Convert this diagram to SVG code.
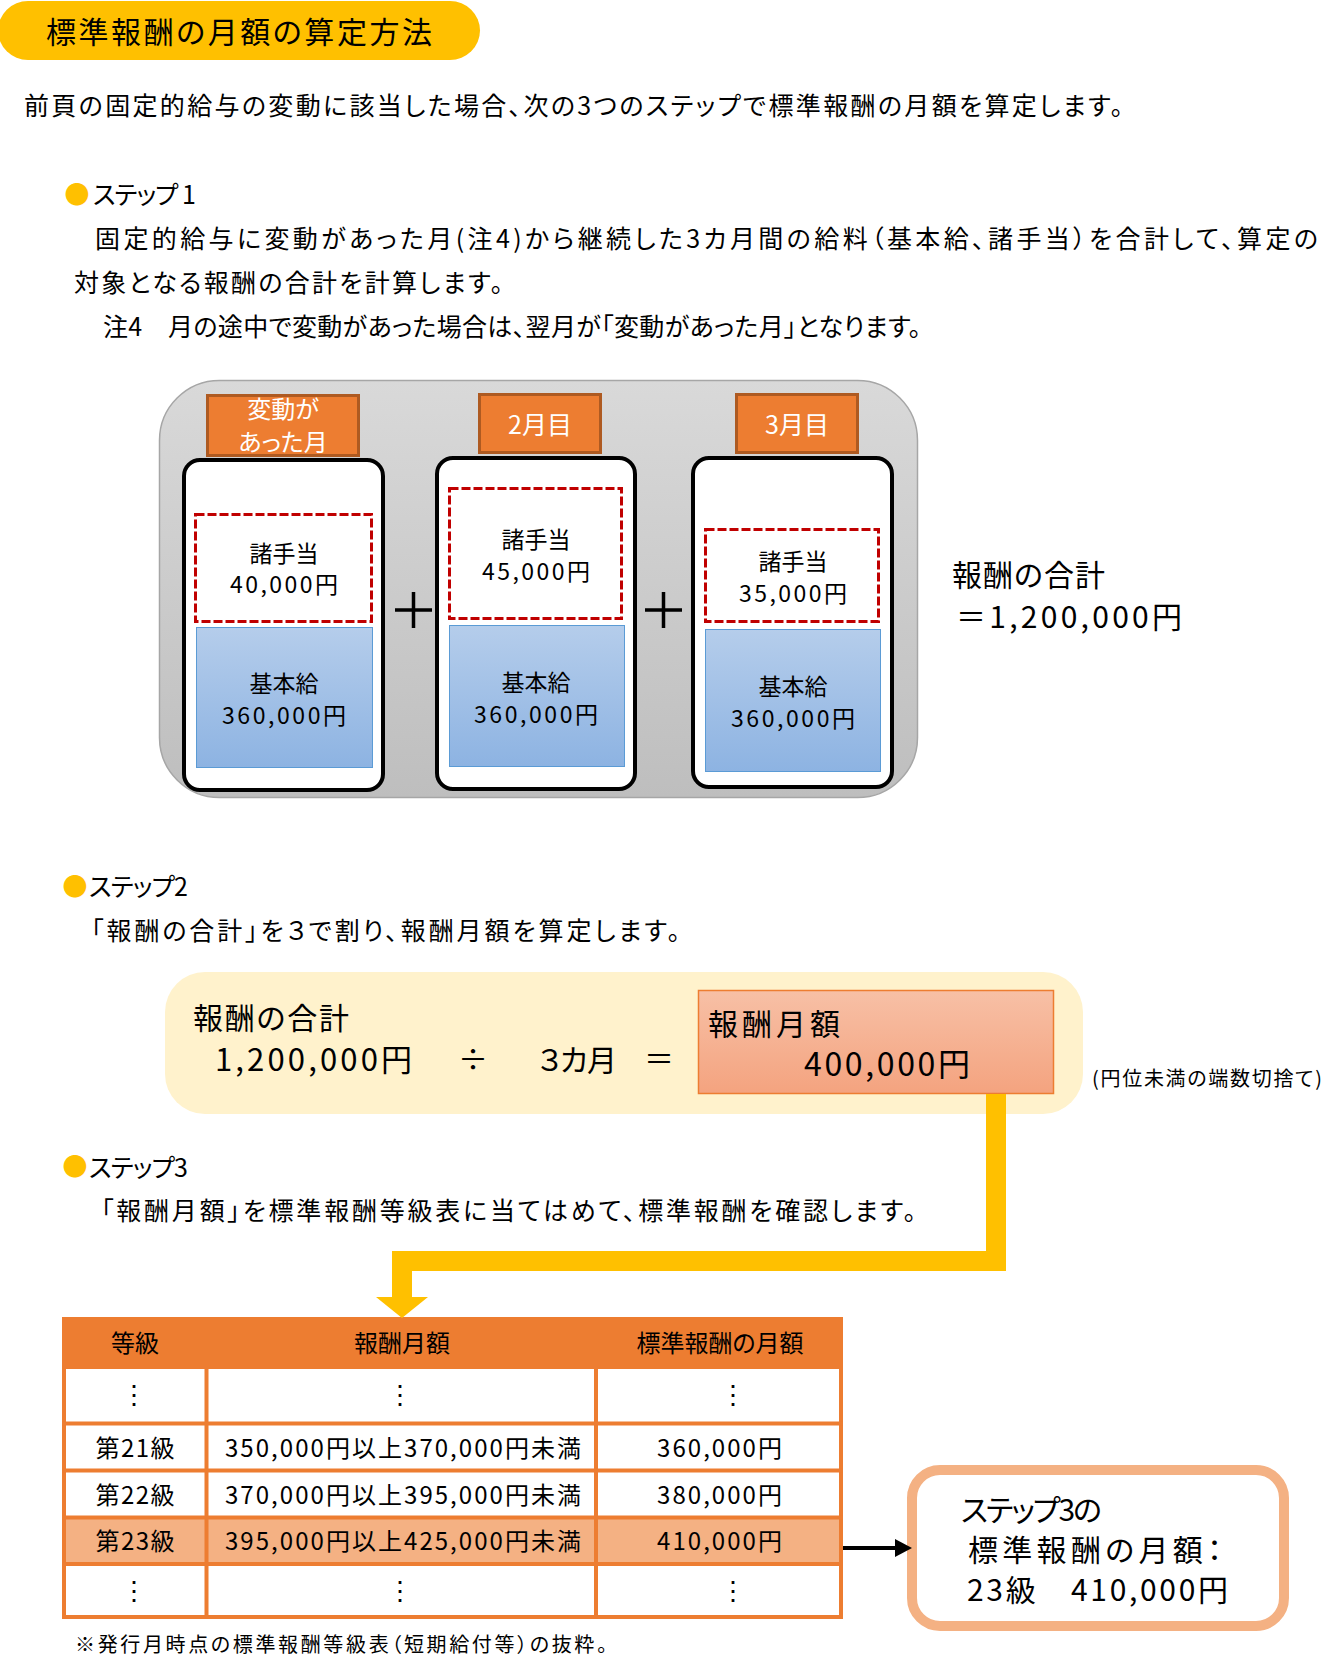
<svg xmlns="http://www.w3.org/2000/svg" width="1328" height="1656" viewBox="0 0 1328 1656">
<style>
text { font-family: "Noto Sans CJK JP", "Noto Sans", sans-serif; font-feature-settings: "palt" 1; fill: #000; }
.t25 { font-size: 25px; }
.t30 { font-size: 30px; }
.t31 { font-size: 31px; }
.t32 { font-size: 32px; }
.t24 { font-size: 24px; }
.t23 { font-size: 23px; }
.t20 { font-size: 20px; }
.mid { text-anchor: middle; }
.white { fill: #fff; }
.bullet { fill: #FFC000; font-size: 25px; text-anchor: middle; font-feature-settings: normal; }
.card { fill: #fff; stroke: #000; stroke-width: 4; }
.tab { fill: #ED7D31; stroke: #AE5A21; stroke-width: 3; }
.allow { fill: #fff; stroke: #C00000; stroke-width: 3; stroke-dasharray: 9 3; }
.base { fill: url(#gBlue); stroke: #5B9BD5; stroke-width: 1; }
.grid { stroke: #ED7D31; stroke-width: 4; fill: none; }
.dots { font-size: 26px; text-anchor: middle; font-feature-settings: normal; }
</style>
<defs>
<linearGradient id="gGray" x1="0" y1="0" x2="0" y2="1">
<stop offset="0" stop-color="#D9D9D9"/>
<stop offset="1" stop-color="#BEBEBE"/>
</linearGradient>
<linearGradient id="gBlue" x1="0" y1="0" x2="0" y2="1">
<stop offset="0" stop-color="#B5CDEB"/>
<stop offset="1" stop-color="#8DB3E2"/>
</linearGradient>
<linearGradient id="gSalmon" x1="0" y1="0" x2="0" y2="1">
<stop offset="0" stop-color="#F7C0A6"/>
<stop offset="1" stop-color="#F4A37F"/>
</linearGradient>
<marker id="mBlack" viewBox="0 0 17 18" refX="0" refY="9" markerWidth="17" markerHeight="18" markerUnits="userSpaceOnUse" orient="auto">
<path d="M0,0 L17,9 L0,18 Z" fill="#000"/>
</marker>
</defs>

<g id="title">
<rect x="-2" y="1" width="482" height="59" rx="30" fill="#FFC000"/>
<text class="t30" x="46" y="43" textLength="386">標準報酬の月額の算定方法</text>
</g>

<g id="intro">
<text class="t25" x="24" y="115" textLength="1099">前頁の固定的給与の変動に該当した場合、次の3つのステップで標準報酬の月額を算定します。</text>
</g>

<g id="step1-text">
<text class="bullet" x="77" y="204">●</text>
<text class="t25" x="93" y="204" textLength="103">ステップ 1</text>
<text class="t25" x="95" y="248" textLength="1223">固定的給与に変動があった月(注4)から継続した3カ月間の給料（基本給、諸手当）を合計して、算定の</text>
<text class="t25" x="74" y="292" textLength="429">対象となる報酬の合計を計算します。</text>
<text class="t25" x="103" y="336" textLength="818">注4　月の途中で変動があった場合は、翌月が「変動があった月」となります。</text>
</g>

<g id="step1-panel">
<rect x="159.5" y="380.5" width="758" height="417" rx="60" fill="url(#gGray)" stroke="#A6A6A6" stroke-width="1.5"/>
</g>

<g id="month1">
<rect class="tab" x="207.5" y="395.5" width="151" height="60"/>
<text class="t24 mid white" x="283" y="418">変動が</text>
<text class="t24 mid white" x="283" y="451">あった月</text>
<rect class="card" x="184" y="460" width="199" height="330" rx="16"/>
<rect class="allow" x="195.5" y="514.5" width="176" height="107"/>
<text class="t23 mid" x="284" y="562">諸手当</text>
<text class="t23 mid" x="284" y="593" textLength="108">40,000円</text>
<rect class="base" x="196.5" y="627.5" width="176" height="140"/>
<text class="t23 mid" x="284" y="692">基本給</text>
<text class="t23 mid" x="284" y="724" textLength="124">360,000円</text>
</g>

<g id="month2">
<rect class="tab" x="479.5" y="394.5" width="121" height="58"/>
<text class="t25 mid white" x="540" y="434">2月目</text>
<rect class="card" x="437" y="458" width="198" height="331" rx="16"/>
<rect class="allow" x="449.5" y="488.5" width="172" height="130"/>
<text class="t23 mid" x="536" y="548">諸手当</text>
<text class="t23 mid" x="536" y="580" textLength="108">45,000円</text>
<rect class="base" x="449.5" y="625.5" width="175" height="141"/>
<text class="t23 mid" x="536" y="691">基本給</text>
<text class="t23 mid" x="536" y="723" textLength="124">360,000円</text>
</g>

<g id="month3">
<rect class="tab" x="736.5" y="394.5" width="121" height="58"/>
<text class="t25 mid white" x="797" y="434">3月目</text>
<rect class="card" x="693" y="458" width="199" height="329" rx="16"/>
<rect class="allow" x="705.5" y="529.5" width="173" height="92"/>
<text class="t23 mid" x="793" y="570">諸手当</text>
<text class="t23 mid" x="793" y="602" textLength="108">35,000円</text>
<rect class="base" x="705.5" y="629.5" width="175" height="142"/>
<text class="t23 mid" x="793" y="695">基本給</text>
<text class="t23 mid" x="793" y="727" textLength="124">360,000円</text>
</g>

<g id="plus-signs" stroke="#000" stroke-width="3.5">
<path d="M395,610 H432 M413.5,592 V628"/>
<path d="M645,610 H682 M663.5,592 V628"/>
</g>

<g id="total">
<text class="t30" x="952" y="586" textLength="153">報酬の合計</text>
<text class="t30" x="956" y="628" textLength="226">＝1,200,000円</text>
</g>

<g id="step2-text">
<text class="bullet" x="75" y="896">●</text>
<text class="t25" x="89" y="896" textLength="99">ステップ2</text>
<text class="t25" x="91" y="940" textLength="589">「報酬の合計」を３で割り、報酬月額を算定します。</text>
</g>

<g id="step2-calc">
<rect x="165" y="972" width="918" height="142" rx="40" fill="#FFF2CC"/>
<text class="t30" x="193" y="1029" textLength="156">報酬の合計</text>
<text class="t31" x="215" y="1071" textLength="197">1,200,000円</text>
<text class="t30 mid" x="473" y="1070">÷</text>
<text class="t30" x="538" y="1071" textLength="79">３カ月</text>
<text class="t30 mid" x="659" y="1070">＝</text>
</g>

<g id="monthly-amount">
<rect x="698.5" y="990.5" width="355" height="103" fill="url(#gSalmon)" stroke="#ED7D31" stroke-width="1.5"/>
<text class="t30" x="708" y="1035" textLength="132">報酬月額</text>
<text class="t32" x="804" y="1076" textLength="166">400,000円</text>
</g>

<g id="rounding-note">
<text class="t20" x="1092" y="1086" textLength="230">(円位未満の端数切捨て)</text>
</g>

<g id="step3-text">
<text class="bullet" x="75" y="1176">●</text>
<text class="t25" x="89" y="1177" textLength="99">ステップ3</text>
<text class="t25" x="101" y="1220" textLength="815">「報酬月額」を標準報酬等級表に当てはめて、標準報酬を確認します。</text>
</g>

<g id="grade-table">
<rect x="62" y="1317" width="781" height="52" fill="#ED7D31"/>
<rect x="62" y="1517" width="781" height="47" fill="#F4B183"/>
<rect class="grid" x="64" y="1319" width="777" height="298"/>
<path class="grid" d="M62,1423.5 H843 M62,1470.5 H843 M62,1517.5 H843 M62,1564 H843 M206.5,1369 V1617 M596,1369 V1617"/>
<text class="t24 mid" x="135" y="1352">等級</text>
<text class="t24 mid" x="402" y="1352">報酬月額</text>
<text class="t24 mid" x="720" y="1352">標準報酬の月額</text>
<text class="dots" x="134" y="1404">⋮</text>
<text class="dots" x="400" y="1404">⋮</text>
<text class="dots" x="733" y="1404">⋮</text>
<text class="t24 mid" x="135" y="1457" textLength="79">第21級</text>
<text class="t24" x="225" y="1457" textLength="356">350,000円以上370,000円未満</text>
<text class="t24 mid" x="719.5" y="1457" textLength="125">360,000円</text>
<text class="t24 mid" x="135" y="1504" textLength="79">第22級</text>
<text class="t24" x="225" y="1504" textLength="356">370,000円以上395,000円未満</text>
<text class="t24 mid" x="719.5" y="1504" textLength="125">380,000円</text>
<text class="t24 mid" x="135" y="1550" textLength="79">第23級</text>
<text class="t24" x="225" y="1550" textLength="356">395,000円以上425,000円未満</text>
<text class="t24 mid" x="719.5" y="1550" textLength="125">410,000円</text>
<text class="dots" x="134" y="1600">⋮</text>
<text class="dots" x="400" y="1600">⋮</text>
<text class="dots" x="733" y="1600">⋮</text>
</g>

<g id="table-note">
<text class="t20" x="75" y="1652" textLength="532">※発行月時点の標準報酬等級表（短期給付等）の抜粋。</text>
</g>

<g id="result">
<rect x="912" y="1470" width="372" height="156" rx="28" fill="#fff" stroke="#F4B183" stroke-width="10"/>
<text class="t30" x="961" y="1521" textLength="141">ステップ3の</text>
<text class="t30" x="968" y="1561" textLength="254">標準報酬の月額：</text>
<text class="t30" x="967" y="1601" textLength="261">23級　410,000円</text>
</g>

<g id="connectors">
<path d="M996,1094 V1261 H402 V1298" fill="none" stroke="#FFC000" stroke-width="20"/>
<path d="M376,1297 L428,1297 L402,1318 Z" fill="#FFC000"/>
<path d="M843,1548 H895" fill="none" stroke="#000" stroke-width="4" marker-end="url(#mBlack)"/>
</g>
</svg>
